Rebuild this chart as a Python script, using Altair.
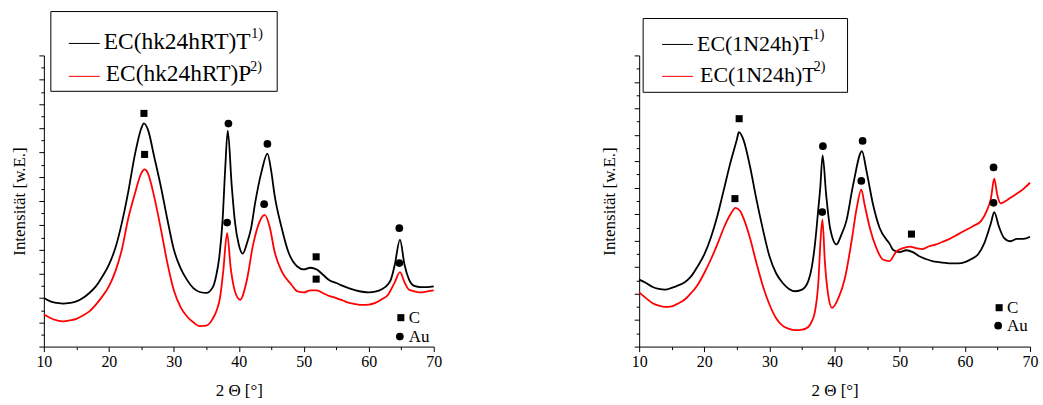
import altair as alt
import pandas as pd

FONT = "Liberation Serif"

# ---------------- left panel: EC(hk24hRT) ----------------
left_T_theta = [10, 11, 12, 13, 14, 15, 16, 17, 18, 19,
                20, 21, 22, 23, 24, 25, 25.4, 26, 27, 28,
                29, 30, 31, 32, 33, 34, 35, 36, 36.5, 37,
                37.5, 37.9, 38.3, 38.9, 39.4, 40, 40.6, 41.3, 41.9, 42.5,
                43.5, 44.4, 45, 45.5, 46.6, 47.6, 49, 50, 51, 52,
                53, 54, 55, 56, 57, 58, 59, 60, 61, 62,
                63, 63.4, 64, 64.8, 65.5, 66.2, 67, 68, 69, 70]
left_T_int = [200, 186, 180, 177, 180, 186, 200, 221, 248, 289,
              337, 406, 510, 640, 790, 900, 920, 895, 780, 660,
              525, 400, 325, 276, 241, 225, 221, 245, 290, 370,
              520, 730, 890, 666, 515, 420, 383, 430, 489, 590,
              721, 795, 721, 625, 489, 392, 330, 318, 325, 318,
              295, 272, 262, 250, 240, 232, 226, 223, 226, 236,
              258, 276, 337, 441, 337, 276, 250, 245, 245, 248]

left_P_theta = [10, 11, 12, 13, 14, 15, 16, 17, 18, 19,
                20, 21, 22, 23, 24, 25, 25.5, 26, 27, 28,
                29, 30, 31, 32, 33, 34, 35, 36, 36.6, 37.1,
                37.6, 38.2, 38.75, 39.4, 40.2, 41.2, 42.2, 43.2, 44, 44.8,
                45.5, 46.6, 48.1, 49, 50, 51, 52, 53, 54, 55,
                56, 57, 58, 59, 60, 61, 62, 63, 63.4, 64,
                64.8, 65.5, 66.2, 67, 68, 69, 70]
left_P_int = [132, 118, 108, 104, 108, 114, 128, 145, 173, 207,
              248, 310, 400, 530, 630, 715, 730, 715, 615, 485,
              345, 232, 165, 125, 100, 84, 86, 115, 150, 200,
              310, 468, 324, 228, 193, 269, 420, 515, 543, 488,
              392, 310, 255, 228, 223, 232, 232, 220, 208, 200,
              190, 180, 175, 172, 173, 180, 195, 215, 234, 265,
              307, 265, 234, 228, 223, 228, 232]

left_C_theta = [25.4, 25.5, 51.9, 51.9]
left_C_int = [961, 792, 370, 278]
left_Au_theta = [38.4, 44.4, 38.2, 43.9, 64.7, 64.7]
left_Au_int = [919, 835, 511, 587, 488, 344]

# ---------------- right panel: EC(1N24h) ----------------
right_T1_theta = [10, 11, 12, 13, 14, 15, 16, 17, 18, 19,
                  20, 21, 22, 23, 24, 25, 25.3, 26, 27, 28,
                  29, 30, 31, 32, 33, 34, 35,
                  36, 36.5, 37, 37.5, 37.8, 38.16, 38.7, 39.3, 40.3, 41,
                  41.8, 42.85, 44.2, 44.9, 45.9, 46.9, 48.5, 49, 50, 51,
                  52, 53, 54, 55, 56, 57, 58, 59, 60, 61,
                  62, 63, 64, 64.5, 65.2, 66, 67, 68, 69, 70]
right_T1_int = [253, 241, 226, 218, 215, 222, 231, 243, 266, 304,
                348, 411, 493, 593, 694, 782, 810, 782, 682, 556,
                442, 341, 278, 241, 218, 209, 215,
                250, 300, 390, 520, 600, 722, 575, 449, 386, 420,
                474, 612, 738, 663, 537, 449, 386, 365, 357, 364,
                357, 341, 331, 323, 319, 316, 314, 314, 319, 331,
                348, 392, 467, 508, 455, 411, 398, 407, 407, 415]

right_T2_theta = [10, 11, 12, 13, 14, 15, 16, 17, 18, 19,
                  20, 21, 22, 23, 24, 24.8, 25.5, 26, 27, 28,
                  29, 30, 31, 32, 33, 34, 35, 36, 36.5, 37,
                  37.55, 37.8, 38.13, 38.5, 39, 39.6, 40.6, 41.6, 42.6, 43.4,
                  44.1, 44.6, 45.4, 46.4, 47.4, 48.4, 49.5, 50.5, 51.5, 52.5,
                  53.5, 54.5, 55.5, 56.5, 57.5, 58.5, 59.5, 60.5, 61.5, 62.5,
                  63.3, 64, 64.5, 65, 65.5, 66, 67, 68, 69, 70]
right_T2_int = [205, 184, 165, 155, 150, 152, 163, 178, 203, 234,
                278, 329, 386, 449, 499, 524, 512, 486, 411, 316,
                228, 159, 108, 79, 67, 62, 64, 75, 95, 134,
                260, 386, 480, 323, 197, 146, 184, 260, 398, 524,
                593, 537, 449, 373, 329, 323, 360, 372, 378, 372,
                368, 379, 385, 395, 405, 418, 432, 445, 458, 475,
                510, 560, 634, 570, 541, 546, 562, 578, 596, 619]

right_C_theta = [25.35, 24.7, 51.8]
right_C_int = [861, 559, 425]
right_Au_theta = [38.2, 44.3, 38.1, 44.1, 64.4, 64.4]
right_Au_int = [757, 777, 508, 626, 677, 543]

x_ticks = list(range(10, 71, 5))

AXIS_STYLE = dict(
    domainColor="black", domainWidth=1, tickColor="black", tickWidth=1,
    labelFont=FONT, labelFontSize=16, labelColor="black",
    titleFont=FONT, titleFontSize=17, titleFontWeight="normal", titleColor="black",
    grid=False,
)


def make_axes(ymax, title_pad):
    xa = alt.Axis(
        values=x_ticks,
        title="2 Θ [°]",
        labelExpr="datum.value % 10 === 0 ? datum.label : ''",
        tickSize={"condition": {"test": "datum.value % 10 === 0", "value": 5}, "value": 3},
        labelFlush=False,
        labelOverlap=False,
        labelPadding=2,
        titlePadding=13,
        **AXIS_STYLE,
    )
    ya = alt.Axis(
        values=list(range(0, ymax + 1, 50)),
        labels=False,
        title="Intensität [w.E.]",
        tickSize={"condition": {"test": "datum.value % 100 === 0", "value": 5}, "value": 3},
        titlePadding=title_pad,
        **AXIS_STYLE,
    )
    return xa, ya


def panel(ymax, width, title_pad, t_theta, t_int, p_theta, p_int,
          c_theta, c_int, au_theta, au_int, leg):
    xs = alt.Scale(domain=[10, 70], nice=False, zero=False)
    ys = alt.Scale(domain=[0, ymax], nice=False)
    xa, ya = make_axes(ymax, title_pad)

    def enc(ch):
        return ch.encode(
            x=alt.X("theta:Q", scale=xs, axis=xa),
            y=alt.Y("intensity:Q", scale=ys, axis=ya),
        )

    df_t = pd.DataFrame({"theta": t_theta, "intensity": t_int})
    df_p = pd.DataFrame({"theta": p_theta, "intensity": p_int})
    df_c = pd.DataFrame({"theta": c_theta, "intensity": c_int})
    df_au = pd.DataFrame({"theta": au_theta, "intensity": au_int})

    black = enc(alt.Chart(df_t).mark_line(color="black", strokeWidth=1.8,
                                           interpolate="monotone"))
    red = enc(alt.Chart(df_p).mark_line(color="#ff0000", strokeWidth=1.8,
                                         interpolate="monotone"))
    sq = enc(alt.Chart(df_c).mark_point(shape="square", filled=True, color="black",
                                         size=50, opacity=1))
    ci = enc(alt.Chart(df_au).mark_point(shape="circle", filled=True, color="black",
                                          size=60, opacity=1))

    one = alt.Data(values=[{"k": 0}])
    layers = [black, red, sq, ci]

    bx1, bx2, by1, by2 = leg["box"]
    layers.append(
        alt.Chart(one).mark_rect(fill="white", stroke="black", strokeWidth=1).encode(
            x=alt.value(bx1), x2=alt.value(bx2), y=alt.value(by1), y2=alt.value(by2)
        )
    )
    for (lx1, lx2, ly, col) in leg["lines"]:
        layers.append(
            alt.Chart(one).mark_rule(color=col, strokeWidth=1).encode(
                x=alt.value(lx1), x2=alt.value(lx2), y=alt.value(ly)
            )
        )
    for (tx, ty, txt, fs) in leg["texts"]:
        layers.append(
            alt.Chart(one).mark_text(align="left", baseline="alphabetic", font=FONT,
                                     fontSize=fs, color="black").encode(
                x=alt.value(tx), y=alt.value(ty), text=alt.value(txt)
            )
        )
    (sx, sy), (cx, cy), lab_x = leg["sym"]
    layers.append(
        alt.Chart(one).mark_point(shape="square", filled=True, color="black", size=50,
                                  opacity=1).encode(x=alt.value(sx), y=alt.value(sy))
    )
    layers.append(
        alt.Chart(one).mark_point(shape="circle", filled=True, color="black", size=60,
                                  opacity=1).encode(x=alt.value(cx), y=alt.value(cy))
    )
    for (ty, txt) in [(sy, "C"), (cy, "Au")]:
        layers.append(
            alt.Chart(one).mark_text(align="left", baseline="middle", font=FONT,
                                     fontSize=17, color="black").encode(
                x=alt.value(lab_x), y=alt.value(ty), text=alt.value(txt)
            )
        )
    return alt.layer(*layers).properties(width=width, height=292)


left_leg = {
    "box": (7, 234, -44, 36),
    "lines": [(25, 56, -12, "black"), (25, 56, 21, "#ff0000")],
    "texts": [(60, -6, "EC(hk24hRT)T", 23.5), (208, -17, "1)", 14),
              (62, 26, "EC(hk24hRT)P", 23.5), (207, 16, "2)", 14)],
    "sym": ((358, 263), (357, 282), 366),
}
right_leg = {
    "box": (4, 209, -37, 37),
    "lines": [(23, 54, -11, "black"), (23, 54, 21, "#ff0000")],
    "texts": [(58, -4, "EC(1N24h)T", 22), (174, -16, "1)", 14),
              (61, 27, "EC(1N24h)T", 22), (175, 16, "2)", 14)],
    "sym": ((361, 253), (360, 271), 369),
}

left = panel(1200, 391, 10, left_T_theta, left_T_int, left_P_theta, left_P_int,
             left_C_theta, left_C_int, left_Au_theta, left_Au_int, left_leg)
right = panel(1100, 392, 15, right_T1_theta, right_T1_int, right_T2_theta, right_T2_int,
              right_C_theta, right_C_int, right_Au_theta, right_Au_int, right_leg)

chart = (
    alt.hconcat(left, right, spacing=206, bounds="flush")
    .properties(padding={"left": 10, "top": 10, "right": 5, "bottom": 5},
                background="white")
    .configure_view(strokeWidth=0)
)

chart.save("out.html", embed_options={"renderer": "svg", "actions": False})
